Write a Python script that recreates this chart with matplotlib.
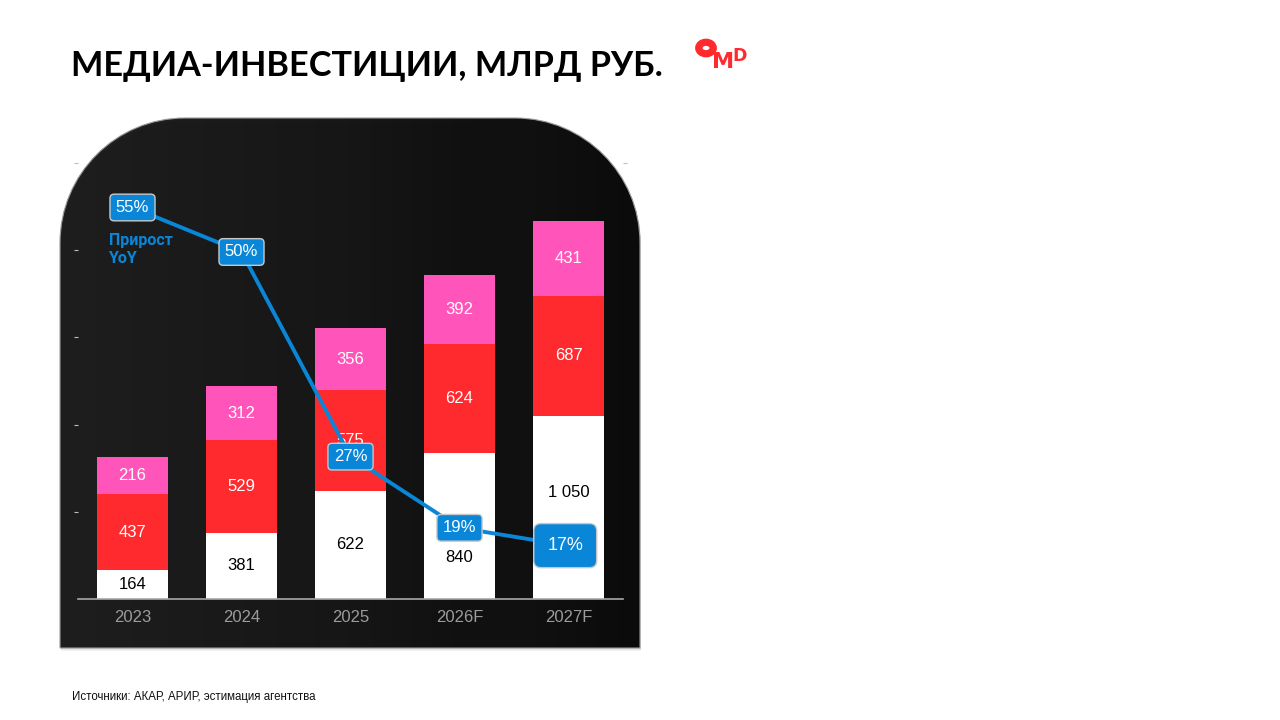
import numpy as np
import matplotlib.pyplot as plt
from matplotlib.path import Path
from matplotlib.patches import PathPatch, Ellipse
from matplotlib.colors import LinearSegmentedColormap

# --- data ---
years = ["2023", "2024", "2025", "2026F", "2027F"]
seg_white = [164, 381, 622, 840, 1050]
seg_red = [437, 529, 575, 624, 687]
seg_pink = [216, 312, 356, 392, 431]
yoy = [55, 50, 27, 19, 17]

title = "МЕДИА-ИНВЕСТИЦИИ, МЛРД РУБ."
source = "Источники: АКАР, АРИР, эстимация агентства"

RED = "#ff2a2e"
PINK = "#ff55bb"
BLUE = "#0a86d9"

W, H = 1280, 720
fig = plt.figure(figsize=(12.8, 7.2), dpi=100)
fig.patch.set_facecolor("white")

# background axes in pixel coordinates
bg = fig.add_axes([0, 0, 1, 1])
bg.set_xlim(0, W)
bg.set_ylim(H, 0)
bg.axis("off")

# dark panel with rounded top corners
x0, x1, y0, y1, r = 60, 640, 118, 648, 125
k = 0.5523 * r
verts = [(x0, y1), (x0, y0 + r), (x0, y0 + r - k), (x0 + r - k, y0), (x0 + r, y0),
         (x1 - r, y0), (x1 - r + k, y0), (x1, y0 + r - k), (x1, y0 + r),
         (x1, y1), (x0, y1)]
codes = [Path.MOVETO, Path.LINETO, Path.CURVE4, Path.CURVE4, Path.CURVE4,
         Path.LINETO, Path.CURVE4, Path.CURVE4, Path.CURVE4,
         Path.LINETO, Path.CLOSEPOLY]
panel_path = Path(verts, codes)

# soft shadow
for i, a in enumerate([0.05, 0.05, 0.06]):
    off = 3 - i
    sh = Path([(vx + 1, vy + off) for vx, vy in verts], codes)
    bg.add_patch(PathPatch(sh, facecolor="#000000", edgecolor="none", alpha=a, lw=2 * off + 1))

bg.add_patch(PathPatch(panel_path, facecolor="none", edgecolor="#9a9a9a", lw=0.8))
grad = np.linspace(0, 1, 256).reshape(1, -1)
cmap = LinearSegmentedColormap.from_list("g", ["#242424", "#1c1c1c", "#0e0e0e"])
img = bg.imshow(grad, extent=[x0, x1, y1, y0], cmap=cmap, aspect="auto", zorder=0.5)
img.set_clip_path(PathPatch(panel_path, transform=bg.transData))

# title, logo, source
bg.text(71, 66, title, fontsize=24.7, fontweight="bold", family="Lato",
        color="black", va="center", ha="left")
bg.add_patch(Ellipse((706, 48), 14.5, 11.5, facecolor="none", edgecolor=RED, lw=5.2))
bg.text(723, 62, "M", fontsize=16, fontweight="heavy", family="DejaVu Sans",
        color=RED, va="center", ha="center")
bg.text(740, 56, "D", fontsize=12.5, fontweight="heavy", family="DejaVu Sans",
        color=RED, va="center", ha="center")
bg.text(72, 697, source, fontsize=8.3, family="Liberation Sans", color="#111111",
        va="center", ha="left")

# main chart axes: pixel box 78..623 x, 163..599 y
ax = fig.add_axes([78 / W, (H - 599) / H, 545 / W, 436 / H])
ax.set_facecolor("none")
x = np.arange(len(years))
bw = 0.66
ax.bar(x, seg_white, bw, color="white", zorder=2)
ax.bar(x, seg_red, bw, bottom=seg_white, color=RED, zorder=2)
bottom3 = np.array(seg_white) + np.array(seg_red)
ax.bar(x, seg_pink, bw, bottom=bottom3, color=PINK, zorder=2)
ax.set_xlim(-0.5, 4.5)
ax.set_ylim(0, 2500)

def fmt(v):
    return f"{v:,}".replace(",", " ")

# white-segment label offsets (points) to stay clear of line labels
white_shift = [0, 0, 0, -23, 11]
lab_fs = 12
for i in range(len(years)):
    ax.annotate(fmt(seg_white[i]), (x[i], seg_white[i] / 2), xytext=(0, white_shift[i]),
                textcoords="offset points", ha="center", va="center",
                fontsize=lab_fs, family="Liberation Sans", color="black", zorder=3)
    ax.text(x[i], seg_white[i] + seg_red[i] / 2, fmt(seg_red[i]), ha="center", va="center",
            fontsize=lab_fs, family="Liberation Sans", color="white", zorder=3)
    ax.text(x[i], bottom3[i] + seg_pink[i] / 2, fmt(seg_pink[i]), ha="center", va="center",
            fontsize=lab_fs, family="Liberation Sans", color="white", zorder=3)

for s in ["top", "right", "left"]:
    ax.spines[s].set_visible(False)
ax.spines["bottom"].set_color("#a8a8a8")
ax.spines["bottom"].set_linewidth(1.2)
ax.set_xticks(x)
ax.set_xticklabels(years, fontsize=12, family="Liberation Sans", color="#9c9c9c")
ax.tick_params(axis="x", length=0, pad=8)
ax.set_yticks([500, 1000, 1500, 2000, 2500])
ax.set_yticklabels([])
ax.tick_params(axis="y", length=3, color="#bdbdbd", width=0.8, direction="out")

# YoY line on secondary axis
ax2 = ax.twinx()
ax2.set_ylim(11, 60)
ax2.set_yticks([60])
ax2.set_yticklabels([])
ax2.tick_params(axis="y", length=3, color="#bdbdbd", width=0.8)
for s in ax2.spines.values():
    s.set_visible(False)
ax2.plot(x, yoy, color=BLUE, lw=2.8, zorder=4)
for i, v in enumerate(yoy):
    big = i == len(yoy) - 1
    ax2.text(x[i] - (0.03 if big else 0), v, f"{v}%", ha="center", va="center",
             fontsize=13 if big else 12, family="Liberation Sans", color="white", zorder=5,
             bbox=dict(boxstyle="round,pad=0.75,rounding_size=0.4" if big
                       else "round,pad=0.35,rounding_size=0.25",
                       fc=BLUE, ec="#c8c8c8", lw=1.0))
ax2.text(x[0] - 0.22, 50.3, "Прирост\nYoY", ha="left", va="center", fontsize=11.5,
         fontweight="bold", family="Roboto", color=BLUE, linespacing=1.3, zorder=5)

fig.savefig("out.png", dpi=100)
